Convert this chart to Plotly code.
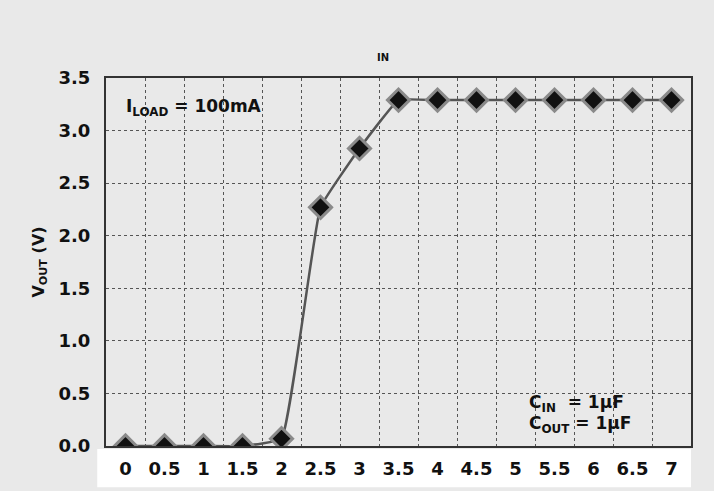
import plotly.graph_objects as go

vin = [0, 0.5, 1, 1.5, 2, 2.5, 3, 3.5, 4, 4.5, 5, 5.5, 6, 6.5, 7]
vout = [0.0, 0.0, 0.0, 0.0, 0.07, 2.27, 2.83, 3.29, 3.29, 3.29, 3.29, 3.29, 3.29, 3.29, 3.29]
x_ticks = [0, 0.5, 1, 1.5, 2, 2.5, 3, 3.5, 4, 4.5, 5, 5.5, 6, 6.5, 7]
x_tick_text = ["0", "0.5", "1", "1.5", "2", "2.5", "3", "3.5", "4", "4.5", "5", "5.5", "6", "6.5", "7"]
x_grid = [0.25, 0.75, 1.25, 1.75, 2.25, 2.75, 3.25, 3.75, 4.25, 4.75, 5.25, 5.75, 6.25, 6.75]
y_ticks = [0.0, 0.5, 1.0, 1.5, 2.0, 2.5, 3.0, 3.5]
y_tick_text = ["0.0", "0.5", "1.0", "1.5", "2.0", "2.5", "3.0", "3.5"]

FONT = "DejaVu Sans"
BG = "#e9e9e9"

fig = go.Figure()
fig.add_trace(go.Scatter(
    x=vin, y=vout, mode="lines+markers",
    line=dict(color="#555555", width=2.5, shape="spline", smoothing=0.3),
    marker=dict(symbol="diamond", size=17, color="#111111",
                line=dict(color="#8a8a8a", width=3)),
    cliponaxis=True, showlegend=False,
))

fig.update_layout(
    width=714, height=491,
    margin=dict(l=106, r=23, t=78, b=45, autoexpand=False),
    paper_bgcolor=BG, plot_bgcolor=BG,
    font=dict(family=FONT, color="#111111"),
    xaxis=dict(
        range=[-0.25, 7.25], tickvals=x_ticks, ticktext=x_tick_text,
        showgrid=False, zeroline=False, ticks="", ticklabelstandoff=5,
        tickfont=dict(family=FONT, size=18, color="#111111", weight="bold"),
        showline=True, linecolor="#333333", linewidth=2, mirror=True,
        minor=dict(tickvals=x_grid, showgrid=True, gridcolor="#555555",
                   griddash="dot", gridwidth=1, ticks=""),
    ),
    yaxis=dict(
        range=[0, 3.5], tickvals=y_ticks, ticktext=y_tick_text,
        showgrid=True, gridcolor="#555555", griddash="dot", gridwidth=1,
        zeroline=False, ticks="", ticklabelstandoff=10,
        tickfont=dict(family=FONT, size=18, color="#111111", weight="bold"),
        showline=True, linecolor="#333333", linewidth=2, mirror=True,
        title=dict(text="V<sub>OUT</sub> (V)", standoff=10,
                   font=dict(family=FONT, size=16, color="#111111", weight="bold")),
    ),
    shapes=[dict(type="rect", xref="paper", yref="paper",
                 x0=-0.015, x1=1.0, y0=-0.008, y1=-0.112,
                 fillcolor="white", line=dict(width=0), layer="below")],
    annotations=[
        dict(text="<b>I<sub>LOAD</sub> = 100mA</b>", xref="paper", yref="paper",
             x=0.03, y=0.92, xanchor="left", yanchor="middle", showarrow=False,
             font=dict(family=FONT, size=17, color="#111111")),
        dict(text="<b>C<sub>IN</sub>  = 1µF</b>", xref="paper", yref="paper",
             x=0.72, y=0.115, xanchor="left", yanchor="middle", showarrow=False,
             font=dict(family=FONT, size=17, color="#111111")),
        dict(text="<b>C<sub>OUT</sub> = 1µF</b>", xref="paper", yref="paper",
             x=0.72, y=0.058, xanchor="left", yanchor="middle", showarrow=False,
             font=dict(family=FONT, size=17, color="#111111")),
        dict(text="<b>IN</b>", xref="paper", yref="paper",
             x=0.474, y=1.055, xanchor="center", yanchor="middle", showarrow=False,
             font=dict(family=FONT, size=10, color="#111111")),
    ],
)

fig.write_html("out.html",
               config={"displayModeBar": False},
               post_script="document.body.style.margin='0px';"
                           "document.body.style.background='#e9e9e9';"
                           "document.body.style.overflow='hidden';")
